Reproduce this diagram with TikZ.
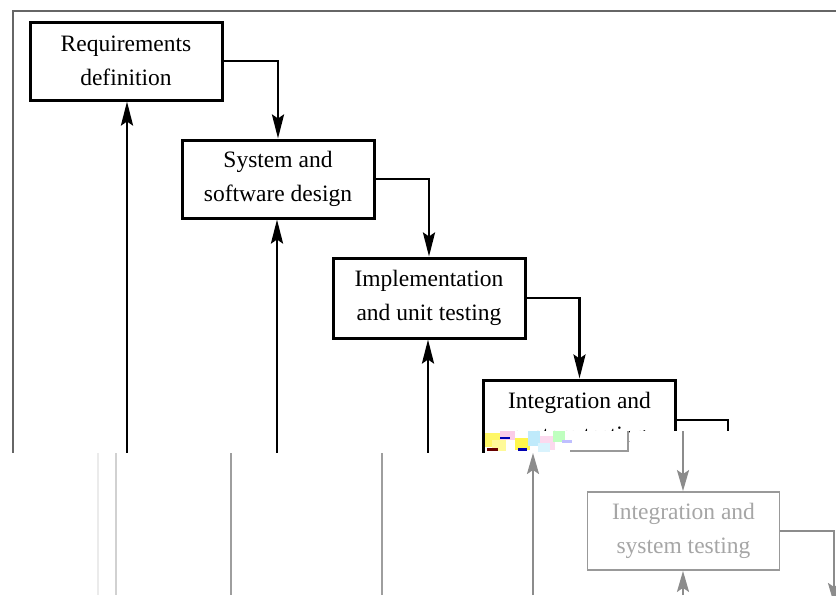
\documentclass[tikz,border=0pt]{standalone}
\usepackage{fontspec}
\setmainfont{Liberation Serif}
\usetikzlibrary{arrows.meta}
\begin{document}
\begin{tikzpicture}[x=1pt,y=-1pt,
  box/.style={draw=black,line width=3pt,fill=white,minimum width=192pt,minimum height=78pt,
    align=center,font=\fontsize{23.5}{34}\selectfont,inner sep=0pt},
  gbox/.style={box,draw=black!40,line width=1.8pt,text=black!35},
  arr/.style={line width=2.8pt,-{Stealth[length=24pt,width=12pt,inset=4pt]}},
  conn/.style={line width=2.8pt},
  garr/.style={draw=black!45,line width=2.2pt,-{Stealth[length=21pt,width=12pt,inset=4pt]}},
  wipe/.style={fill=white,draw=none},
  ghost/.style={line width=1.6pt}]
\useasboundingbox (0,0) rectangle (836,595);
\fill[white] (0,0) rectangle (836,595);
% outer frame
\draw[black!60,line width=2pt] (13,453) -- (13,11) -- (836,11);
% top layer boxes
\node[box] (b1) at (126,61) {Requirements\\definition};
\node[box] (b2) at (278,179) {System and\\software design};
\node[box,minimum height=80pt] (b3) at (429,298) {Implementation\\and unit testing};
\node[box,minimum height=80pt] (b4) at (579.5,420) {Integration and\\system testing};
% forward connectors
\draw[arr] (b1.east) -| (b2.north);
\draw[arr] (b2.east) -| (b3.north);
\draw[arr] (b3.east) -| (b4.north);
\coordinate (c4) at (728,431);
\draw[conn] (b4.east) -| (c4);
% feedback arrows
\coordinate (u1) at (127,453);
\coordinate (u2) at (277,453);
\coordinate (u3) at (428,453);
\draw[arr] (u1) -- (u1 |- b1.south);
\draw[arr] (u2) -- (u2 |- b2.south);
\draw[arr] (u3) -- (u3 |- b3.south);
% glitch overlays
\path[wipe] (630,431) rectangle (836,595);
\path[wipe] (0,453) rectangle (836,595);
\path[wipe] (485,431) rectangle (628,451);
\draw[black!40,line width=1.5pt] (628,431) -- (628,451) -- (570,451);
\fill[yellow!60] (485,433) rectangle (500,447);
\fill[magenta!20] (500,431) rectangle (515,440);
\fill[yellow!70] (515,438) rectangle (530,450);
\fill[cyan!25] (528,431) rectangle (540,446);
\fill[magenta!15] (540,436) rectangle (555,450);
\fill[green!25] (553,431) rectangle (565,442);
\fill[yellow!40] (492,440) rectangle (506,451);
\fill[cyan!15] (538,443) rectangle (550,452);
\fill[blue!70!black] (500,437) rectangle (510,439);
\fill[blue!70!black] (518,448) rectangle (527,451);
\fill[red!40!black] (487,448) rectangle (498,451);
\fill[blue!25] (562,440) rectangle (572,443);
% lower layer
\draw[black!8,ghost] (98,453) -- (98,595);
\draw[black!18,ghost] (116,453) -- (116,595);
\draw[black!38,ghost] (231,453) -- (231,595);
\draw[black!38,ghost] (382,453) -- (382,595);
\node[gbox] (b5) at (683.5,531) {Integration and\\system testing};
\coordinate (g1) at (683,431);
\draw[garr] (g1) -- (g1 |- b5.north);
\coordinate (g2) at (834,604);
\draw[garr] (b5.east) -| (g2);
\coordinate (g3) at (683,595);
\draw[garr] (g3) -- (g3 |- b5.south);
\coordinate (g4) at (533,595);
\coordinate (g5) at (533,453);
\draw[garr] (g4) -- (g5);
\end{tikzpicture}
\end{document}
